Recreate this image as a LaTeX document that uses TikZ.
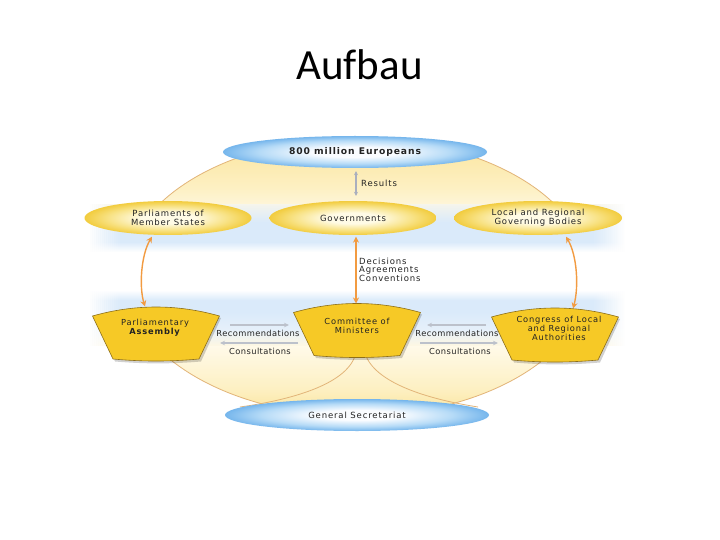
\documentclass[tikz,border=0pt]{standalone}
\usepackage{fontspec}
\usetikzlibrary{shapes.geometric,arrows.meta,backgrounds}
\newfontfamily\titlefont[Ligatures=NoCommon]{Carlito}
\newfontfamily\lblfont[LetterSpace=10]{DejaVu Sans}
\newfontfamily\smlfont[LetterSpace=5]{DejaVu Sans}

\definecolor{txt}{RGB}{35,35,35}
\definecolor{ye}{RGB}{242,204,62}
\definecolor{ym}{RGB}{248,226,132}
\definecolor{yc}{RGB}{255,251,230}
\definecolor{be}{RGB}{118,182,236}
\definecolor{bm}{RGB}{182,219,247}
\definecolor{bc}{RGB}{250,252,255}
\definecolor{gold}{RGB}{246,201,38}
\definecolor{trapline}{RGB}{140,110,25}
\definecolor{orangeA}{RGB}{242,155,65}
\definecolor{grayA}{RGB}{188,193,203}
\definecolor{resgray}{RGB}{170,175,190}
\definecolor{arcc}{RGB}{226,180,120}
\definecolor{cr1}{RGB}{251,228,155}
\definecolor{cr2}{RGB}{253,240,195}
\definecolor{cr3}{RGB}{255,250,234}
\definecolor{bandlow}{RGB}{253,247,228}
\definecolor{bandlt}{RGB}{230,240,250}
\definecolor{bandblue}{RGB}{218,234,250}
\definecolor{bandtop}{RGB}{244,244,236}

\pgfdeclareradialshading{yellsh}{\pgfpoint{0bp}{0bp}}{color(0bp)=(yc); color(8bp)=(yc); color(18bp)=(ym); color(25bp)=(ye); color(50bp)=(ye)}
\pgfdeclareradialshading{bluesh}{\pgfpoint{0bp}{0bp}}{color(0bp)=(bc); color(8bp)=(bc); color(18bp)=(bm); color(25bp)=(be); color(50bp)=(be)}
\pgfdeclareverticalshading{bandsh}{100bp}{color(0bp)=(bandlow); color(25bp)=(bandlow); color(30.4bp)=(bandlt); color(36.8bp)=(bandblue); color(41bp)=(bandblue); color(44.6bp)=(white); color(58.2bp)=(white); color(61.8bp)=(bandblue); color(68.9bp)=(bandblue); color(75bp)=(bandtop); color(100bp)=(bandtop)}
\pgfdeclareverticalshading{bigsh}{100bp}{color(0bp)=(cr1); color(25bp)=(cr1); color(30bp)=(cr2); color(37.8bp)=(cr3); color(57.5bp)=(white); color(66bp)=(cr2); color(75bp)=(cr1); color(100bp)=(cr1)}

\newcommand\trapezshape[2]{%
  \fill[black, opacity=0.18] ({#1-62},{#2+2}) .. controls ({#1-20},{#2-10}) and ({#1+22},{#2-10}) .. ({#1+65},{#2+2}) -- ({#1+45},{#2+45.5}) .. controls ({#1+16},{#2+48}) and ({#1-12},{#2+48}) .. ({#1-41},{#2+45.5}) -- cycle;
  \filldraw[fill=gold, draw=trapline, line width=0.6pt] ({#1-63.5},{#2}) .. controls ({#1-21},{#2-12}) and ({#1+21},{#2-12}) .. ({#1+63.5},{#2}) -- ({#1+43},{#2+43}) .. controls ({#1+14},{#2+45.7}) and ({#1-14},{#2+45.7}) .. ({#1-43},{#2+43}) -- cycle;
}

\begin{document}
\begin{tikzpicture}[x=1pt,y=-1pt,
  yell/.style={ellipse, shade, shading=yellsh, minimum width=167pt, minimum height=34pt, inner sep=0pt, align=center, text=txt, font={\lblfont\fontsize{8.5}{8.8}\selectfont}},
  bluell/.style={ellipse, shade, shading=bluesh, minimum width=264pt, minimum height=32pt, inner sep=0pt, align=center, text=txt, font={\lblfont\fontsize{8.5}{8.8}\selectfont}},
  traptext/.style={align=center, text=txt, inner sep=0pt, font={\lblfont\fontsize{8.3}{8.8}\selectfont}},
  smalltext/.style={text=txt, inner sep=0pt, font={\smlfont\fontsize{8.3}{8.8}\selectfont}},
  sidetext/.style={text=txt, inner sep=0pt, anchor=west, align=left, font={\lblfont\fontsize{8.5}{8.6}\selectfont}},
  orarr/.style={draw=orangeA, line width=1.4pt, {Stealth[length=6pt,width=6pt]}-{Stealth[length=6pt,width=6pt]}},
  grarr/.style={draw=grayA, line width=1.5pt, -{Stealth[length=5pt,width=4.5pt]}},
  resarr/.style={draw=resgray, line width=1.3pt, {Stealth[length=4pt,width=4pt]}-{Stealth[length=4pt,width=4pt]}},
  arcline/.style={draw=arcc, line width=0.8pt}
]
\useasboundingbox (0,0) rectangle (720,540);

% title
\node[font={\titlefont\fontsize{43}{50}\selectfont}, anchor=base, inner sep=0pt] (title) at (359.5,80) {Aufbau};

% ellipses
\node[bluell, font={\lblfont\bfseries\fontsize{9.2}{10}\selectfont}] (eu) at (355,152) {800 million Europeans};
\node[yell] (pms) at (168,218) {Parliaments of\\Member States};
\node[yell] (gov) at (353,218) {Governments};
\node[yell, minimum width=168pt] (lrgb) at (538,218) {Local and Regional\\Governing Bodies};
\node[bluell] (gs) at (357,415) {General Secretariat};

% trapezoids
\trapezshape{156}{316}
\trapezshape{357}{312.5}
\trapezshape{555}{317}
\node[traptext] (pa) at (155,327.5) {Parliamentary\\\textbf{Assembly}};
\node[traptext] (cm) at (357,326) {Committee of\\Ministers};
\node[traptext] (clra) at (559,328.5) {Congress of Local\\and Regional\\Authorities};

% connectors
\coordinate (patop) at (145,306.5);
\coordinate (cmtop) at (356,303.5);
\coordinate (clratop) at (573,308.5);
\draw[orarr] ([xshift=-16pt,yshift=-1.5pt]pms.south) .. controls (141,255) and (139,287) .. (patop);
\draw[orarr] ([xshift=28pt,yshift=-1.5pt]lrgb.south) .. controls (577,255) and (579,287) .. (clratop);
\draw[orarr] ([xshift=3pt,yshift=-1.5pt]gov.south) -- (cmtop);
\draw[resarr] ([xshift=1pt,yshift=-3pt]eu.south) -- ([xshift=3pt,yshift=5pt]gov.north);

\node[sidetext] (res) at (361,183) {Results};
\node[sidetext] (dec) at (359,269.5) {Decisions\\Agreements\\Conventions};

% recommendations / consultations
\coordinate (r1a) at (230,325); \coordinate (r1b) at (289,325);
\coordinate (c1a) at (298,343); \coordinate (c1b) at (220,343);
\coordinate (r2a) at (486,325); \coordinate (r2b) at (427,325);
\coordinate (c2a) at (420,343); \coordinate (c2b) at (498,343);
\draw[grarr] (r1a) -- (r1b);
\draw[grarr] (c1a) -- (c1b);
\draw[grarr] (r2a) -- (r2b);
\draw[grarr] (c2a) -- (c2b);
\node[smalltext] (rec1) at (258,333) {Recommendations};
\node[smalltext] (con1) at (260,351) {Consultations};
\node[smalltext] (rec2) at (457,333) {Recommendations};
\node[smalltext] (con2) at (460,351) {Consultations};

% background
\coordinate (cmbl) at (355,356);
\coordinate (cmbr) at (366,356);
\coordinate (gsl) at (240,407);
\coordinate (gsr) at (478,407);
\begin{scope}[on background layer]
  \fill[white] (0,0) rectangle (720,540);
  \shadedraw[shading=bigsh, draw=arcc, line width=0.8pt] (357,277) ellipse [x radius=232pt, y radius=139pt];
  \shade[shading=bandsh] (120,205) rectangle (594,345);
  \foreach \i in {0,...,14}{
    \pgfmathsetmacro\op{(\i+1)/16}
    \shade[shading=bandsh, fill opacity=\op, opacity=\op] ({90+2*\i},205) rectangle ({92+2*\i},345);
    \shade[shading=bandsh, fill opacity=\op, opacity=\op] ({624-2*\i},205) rectangle ({622-2*\i},345);
  }
  \draw[arcline] (cmbl) .. controls (345,385) and (290,400) .. (gsl);
  \draw[arcline] (cmbr) .. controls (378,385) and (433,400) .. (gsr);
\end{scope}
\end{tikzpicture}
\end{document}
